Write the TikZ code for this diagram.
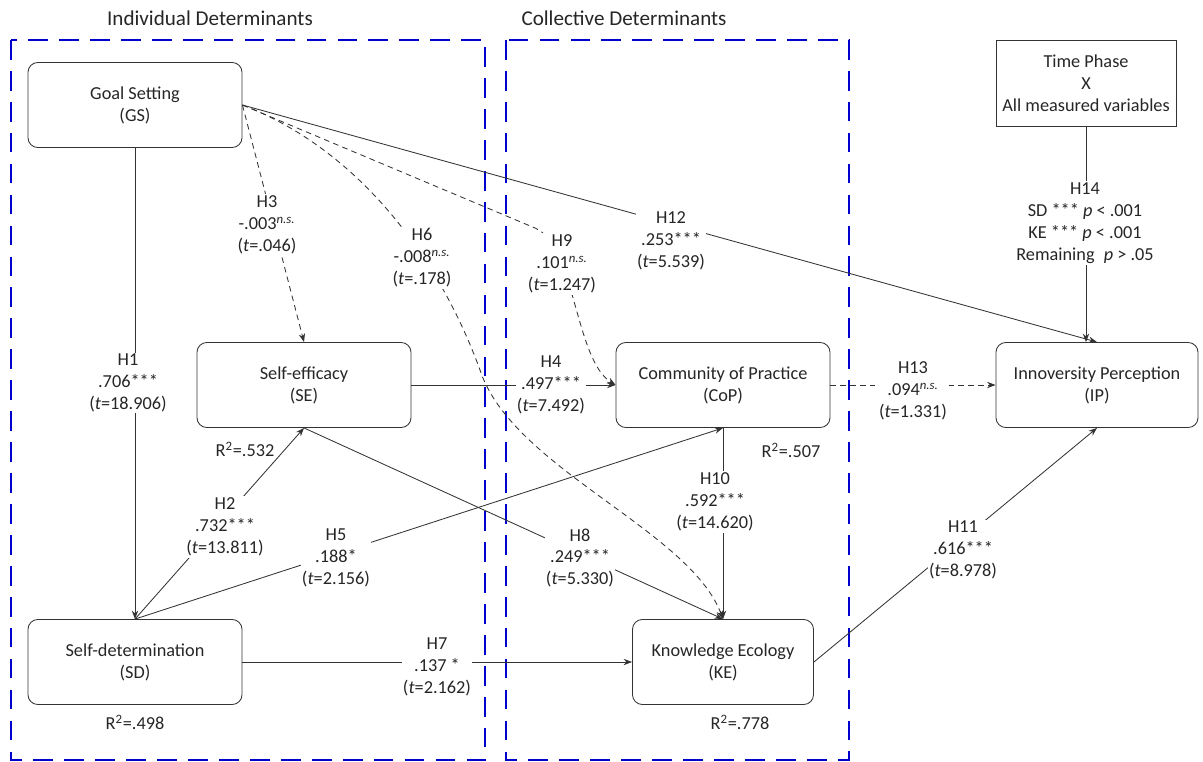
\documentclass[tikz,border=0pt]{standalone}
\usepackage{fontspec}
\setmainfont{Carlito}
\usetikzlibrary{arrows.meta}

\begin{document}
\begin{tikzpicture}[x=0.025cm,y=-0.025cm,
    construct/.style ={draw=black!80, line width=0.6pt, rounded corners=7pt, minimum width=5.35cm, minimum height=2.125cm, align=center, text=black!85, font=\fontsize{13}{15.6}\selectfont},
    hyp/.style ={fill=white, inner sep=1pt, align=center, text=black!85, font=\fontsize{13}{15.6}\selectfont},
    rsq/.style ={inner sep=1pt, text=black!85, font=\fontsize{13}{15.6}\selectfont},
    link/.style ={draw=black!80, line width=0.6pt, -{Stealth[length=6pt,width=4.5pt]}},
    nsig/.style ={link, dash pattern=on 4pt off 3pt},
    region/.style ={draw=blue!80!black, line width=1.4pt, dash pattern=on 14pt off 8pt}]
   \useasboundingbox (0,0) rectangle (1203,762);
   % determinant groups
   \draw[region] (11,40) rectangle (485,760);
   \draw[region] (506,40) rectangle (849,760);
   \node[font=\fontsize{15}{18}\selectfont, text=black!85] (indiv) at (210,18) {Individual Determinants};
   \node[font=\fontsize{15}{18}\selectfont, text=black!85] (coll) at (624,18) {Collective Determinants};
   % constructs
   \node[construct] (GS)  at (135,105) {Goal Setting\\(GS)};
   \node[construct] (SE)  at (304,385) {Self-efficacy\\(SE)};
   \node[construct] (SD)  at (135,662) {Self-determination\\(SD)};
   \node[construct] (CoP) at (723,385) {Community of Practice\\(CoP)};
   \node[construct, minimum width=4.525cm] (KE) at (723,662) {Knowledge Ecology\\(KE)};
   \node[construct, minimum width=5.05cm] (IP) at (1097,385) {Innoversity Perception\\(IP)};
   \node[construct, rounded corners=0pt, minimum width=4.5cm, minimum height=2.15cm] (TP) at (1086,83) {Time Phase\\X\\All measured variables};
   \coordinate (h6bend) at (480,370);
   \coordinate (h9bend) at (535,228);
   % paths
   \draw[link] (GS) to (SD);
   \draw[link] (SD.north) to (SE.south);
   \draw[nsig] (GS.east) to (SE.north);
   \draw[link] (SE.east) to (CoP.west);
   \draw[link] (SD.north) to (CoP.south);
   \draw[nsig] (GS.east) .. controls (360,150) and (440,260) .. (h6bend) .. controls (512,468) and (690,530) .. (KE.north);
   \draw[link] (SD.east) to (KE.west);
   \draw[link] (SE.south) to (KE.north);
   \draw[nsig] (GS.east) -- (h9bend) .. controls (575,245) and (575,360) .. (CoP.west);
   \draw[link] (CoP.south) to (KE.north);
   \draw[link] (KE.east) to (IP.south);
   \draw[link] (GS.east) to (IP.north);
   \draw[nsig] (CoP.east) to (IP.west);
   \draw[link] (TP.south) -- (TP.south |- IP.north);
   % estimates
   \node[hyp] (h1)  at (128,383) {H1\\.706***\\(\textit{t}=18.906)};
   \node[hyp] (h2)  at (225,527) {H2\\.732***\\(\textit{t}=13.811)};
   \node[hyp] (h3)  at (267,225) {H3\\-.003\textsuperscript{\textit{n.s.}}\\(\textit{t}=.046)};
   \node[hyp] (h4)  at (551,385) {H4\\.497***\\(\textit{t}=7.492)};
   \node[hyp] (h5)  at (336,558) {H5\\.188*\\(\textit{t}=2.156)};
   \node[hyp] (h6)  at (422,258) {H6\\-.008\textsuperscript{\textit{n.s.}}\\(\textit{t}=.178)};
   \node[hyp] (h7)  at (437,667) {H7\\.137 *\\(\textit{t}=2.162)};
   \node[hyp] (h8)  at (580,558) {H8\\.249***\\(\textit{t}=5.330)};
   \node[hyp] (h9)  at (562,264) {H9\\.101\textsuperscript{\textit{n.s.}}\\(\textit{t}=1.247)};
   \node[hyp] (h10) at (715,502) {H10\\.592***\\(\textit{t}=14.620)};
   \node[hyp] (h11) at (963,550) {H11\\.616***\\(\textit{t}=8.978)};
   \node[hyp] (h12) at (671,241) {H12\\.253***\\(\textit{t}=5.539)};
   \node[hyp] (h13) at (913,391) {H13\\.094\textsuperscript{\textit{n.s.}}\\(\textit{t}=1.331)};
   \node[hyp] (h14) at (1085,223) {H14\\SD *** \textit{p} < .001\\KE *** \textit{p} < .001\\Remaining\enspace\textit{p} > .05};
   % explained variance
   \node[rsq] (rSE)  at (245,449) {R\textsuperscript{2}=.532};
   \node[rsq] (rSD)  at (135,722) {R\textsuperscript{2}=.498};
   \node[rsq] (rCoP) at (791,450) {R\textsuperscript{2}=.507};
   \node[rsq] (rKE)  at (740,722) {R\textsuperscript{2}=.778};
\end{tikzpicture}
\end{document}
